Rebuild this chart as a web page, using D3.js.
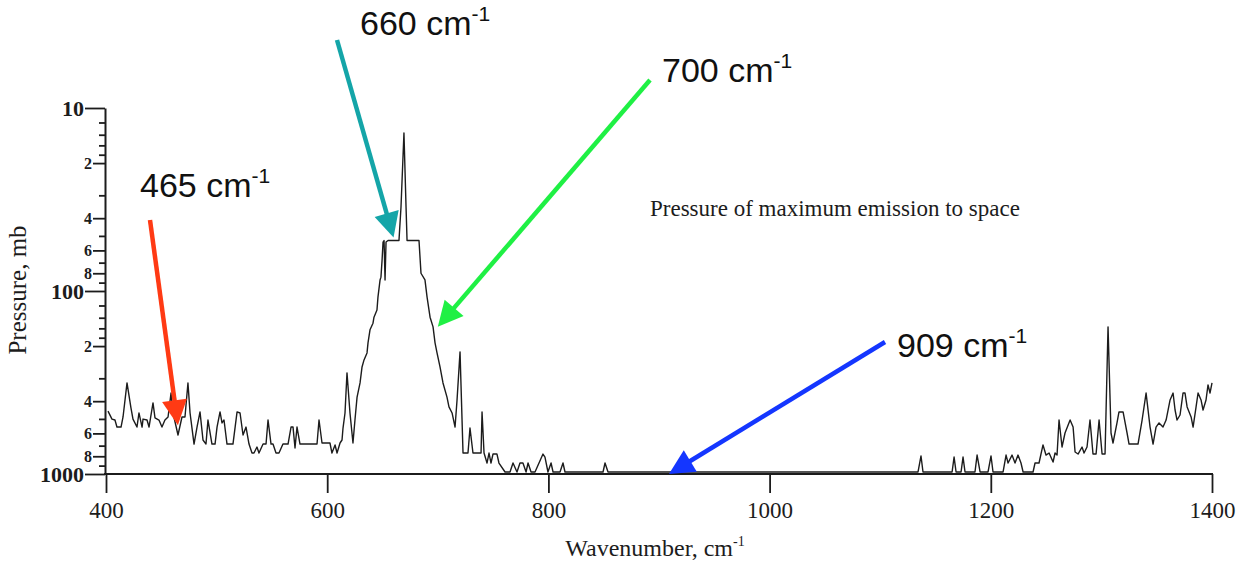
<!DOCTYPE html>
<html>
<head>
<meta charset="utf-8">
<script src="https://cdn.jsdelivr.net/npm/d3@7"></script>
<style>
  html, body { margin: 0; padding: 0; background: #fff; }
  svg { display: block; }
</style>
</head>
<body>
<svg id="chart" width="1244" height="561"></svg>
<script>
// Pressure level of maximum emission to space across the thermal infrared.
const wavenumber = [
  401.8, 405.4, 408.1, 409.9, 413.6, 415.4, 419.0, 422.6, 424.4, 428.0,
  429.8, 432.6, 433.5, 437.1, 438.9, 442.5, 444.3, 447.9, 450.6, 453.3,
  456.1, 458.8, 460.6, 465.1, 468.7, 471.4, 474.1, 476.0, 479.6, 482.3,
  485.0, 487.7, 490.4, 492.2, 495.8, 498.6, 500.4, 503.1, 504.9, 506.7,
  509.4, 514.8, 518.5, 521.2, 523.9, 526.6, 529.3, 532.0, 533.8, 536.5,
  538.3, 542.0, 544.7, 546.5, 549.2, 551.0, 553.7, 556.4, 560.0, 564.6,
  567.3, 569.1, 570.9, 572.7, 575.4, 590.8, 592.6, 595.3, 602.5, 604.3,
  607.1, 608.9, 611.6, 613.4, 614.3, 616.1, 617.9, 620.6, 623.3, 625.1,
  627.0, 629.7, 631.5, 633.3, 636.0, 636.9, 638.7, 641.4, 642.3, 645.0,
  645.9, 647.8, 648.6, 649.6, 650.5, 651.4, 652.3, 653.2, 655.0, 664.9,
  666.7, 669.4, 671.3, 672.2, 683.0, 684.8, 688.4, 690.3, 693.0, 695.7,
  697.5, 699.3, 702.0, 704.7, 708.3, 710.1, 712.9, 715.6, 717.4, 720.1,
  722.8, 727.3, 729.1, 731.8, 739.1, 740.0, 741.8, 744.5, 746.3, 748.1,
  749.9, 753.5, 755.3, 760.8, 765.3, 768.0, 771.6, 774.3, 777.0, 779.8,
  781.6, 784.3, 787.9, 791.5, 795.1, 796.9, 799.6, 802.4, 804.2, 810.5,
  813.2, 815.0, 849.4, 851.2, 853.9, 1134.2, 1136.9, 1138.7, 1165.0, 1166.8,
  1168.6, 1173.1, 1174.9, 1176.7, 1185.7, 1187.6, 1190.3, 1197.5, 1200.2, 1202.0,
  1211.1, 1213.8, 1215.6, 1219.2, 1221.9, 1224.6, 1227.3, 1229.2, 1238.2, 1240.0,
  1243.6, 1247.2, 1249.9, 1252.7, 1256.3, 1258.1, 1259.9, 1261.7, 1264.4, 1267.1,
  1271.7, 1274.4, 1276.2, 1278.9, 1282.5, 1284.3, 1287.0, 1289.7, 1292.4, 1295.2,
  1297.9, 1300.6, 1303.3, 1306.0, 1308.7, 1310.5, 1314.1, 1315.9, 1319.6, 1323.2,
  1325.0, 1333.1, 1336.8, 1340.4, 1344.0, 1346.7, 1349.4, 1352.1, 1355.7, 1358.5,
  1362.1, 1364.8, 1366.6, 1368.4, 1371.1, 1373.8, 1375.6, 1377.5, 1381.1, 1382.9,
  1385.6, 1387.4, 1390.1, 1391.9, 1394.6, 1396.4, 1398.2, 1400.0
];

// mb
const pressure = [
  453, 501, 507, 554, 554, 488, 318, 436, 501, 554,
  464, 554, 501, 507, 554, 409, 494, 507, 554, 507,
  488, 361, 464, 612, 488, 488, 318, 464, 686, 554,
  458, 652, 686, 507, 686, 686, 554, 458, 526, 507,
  686, 686, 458, 464, 612, 554, 686, 768, 768, 712,
  768, 686, 686, 507, 686, 686, 768, 768, 686, 686,
  554, 554, 721, 554, 686, 686, 507, 677, 677, 768,
  694, 768, 677, 652, 561, 464, 280, 464, 677, 507,
  380, 318, 260, 238, 218, 192, 163, 150, 139, 127,
  108, 87, 84, 68, 54, 53, 87, 54, 53, 53,
  35, 13.7, 35, 53, 53, 80, 87, 108, 139, 157,
  192, 218, 260, 318, 380, 430, 464, 554, 394, 215,
  768, 768, 561, 768, 768, 458, 768, 871, 768, 871,
  778, 778, 871, 975, 975, 871, 975, 871, 871, 975,
  871, 975, 975, 871, 778, 808, 975, 871, 975, 975,
  871, 975, 975, 871, 975, 975, 797, 975, 975, 808,
  975, 975, 808, 975, 975, 788, 975, 975, 797, 975,
  975, 788, 871, 788, 871, 788, 871, 975, 975, 871,
  871, 694, 788, 768, 860, 768, 788, 507, 712, 597,
  507, 554, 758, 778, 712, 768, 712, 507, 778, 778,
  507, 778, 778, 157, 597, 677, 526, 458, 458, 597,
  686, 686, 507, 361, 554, 686, 554, 526, 554, 507,
  394, 361, 447, 507, 476, 361, 361, 430, 488, 554,
  430, 361, 394, 447, 394, 326, 361, 318
];

const xTicks = [400, 600, 800, 1000, 1200, 1400];
const yDecades = [10, 100, 1000];
const yLabeledMinor = [20, 40, 60, 80, 200, 400, 600, 800];
const yFineMinor = [12, 14, 16, 18, 30, 50, 70, 90, 120, 140, 160, 180, 300, 500, 700, 900];

// Highlighted spectral positions and their arrows
const markWavenumber = [465, 660, 700, 909];
const markPressure = [541, 51, 157, 1000];
const markColor = ["#ff3a14", "#14a5a8", "#1ff044", "#1436ff"];

const W = 1244, H = 561;
const svg = d3.select("#chart");
svg.append("rect").attr("width", W).attr("height", H).attr("fill", "#fff");

const x = d3.scaleLinear().domain([400, 1400]).range([106, 1212]);
const y = d3.scaleLog().domain([10, 1000]).range([108, 474]);

const serif = "'Liberation Serif', 'DejaVu Serif', serif";
const sans = "'Liberation Sans', Arial, sans-serif";
const ink = "#1c1c1c";

// Emission-level curve
const series = wavenumber.map((w, i) => ({ w, p: pressure[i] }));
svg.append("path")
  .datum(series)
  .attr("fill", "none")
  .attr("stroke", ink)
  .attr("stroke-width", 1.4)
  .attr("stroke-linejoin", "round")
  .attr("d", d3.line().x(d => x(d.w)).y(d => y(d.p)));

// Y axis: decades, labelled minors and fine minors
const yAxisG = svg.append("g").attr("transform", `translate(${x(400) - 1},0)`);
function styleAxis(g) {
  g.selectAll("path.domain").attr("stroke", ink).attr("stroke-width", 2);
  g.selectAll(".tick line").attr("stroke", ink).attr("stroke-width", 1.8);
  g.selectAll("text").attr("fill", ink).attr("font-family", serif);
}
yAxisG.append("g")
  .call(d3.axisLeft(y).tickValues(yDecades).tickSize(20).tickSizeOuter(0).tickPadding(1)
    .tickFormat(d3.format("d")))
  .call(styleAxis)
  .call(g => g.selectAll("text").attr("font-size", 22).attr("font-weight", 600));
yAxisG.append("g")
  .call(d3.axisLeft(y).tickValues(yLabeledMinor).tickSize(12).tickSizeOuter(0).tickPadding(1)
    .tickFormat(d => String(d).charAt(0)))
  .call(styleAxis)
  .call(g => g.select("path.domain").remove())
  .call(g => g.selectAll("text").attr("font-size", 16).attr("font-weight", 600));
yAxisG.append("g")
  .call(d3.axisLeft(y).tickValues(yFineMinor).tickSize(6).tickSizeOuter(0).tickFormat(""))
  .call(styleAxis)
  .call(g => g.select("path.domain").remove());

// X axis
svg.append("g")
  .attr("transform", `translate(0,${y(1000)})`)
  .call(d3.axisBottom(x).tickValues(xTicks).tickSize(19).tickSizeOuter(0).tickPadding(9)
    .tickFormat(d3.format("d")))
  .call(styleAxis)
  .call(g => g.select("path.domain").attr("d", `M${x(400) - 2},0H${x(1400) + 1}`))
  .call(g => g.selectAll("text").attr("font-size", 23));

// Axis titles
const xTitle = svg.append("text")
  .attr("x", 655).attr("y", 556)
  .attr("text-anchor", "middle")
  .attr("font-family", serif).attr("font-size", 24).attr("fill", ink);
xTitle.append("tspan").text("Wavenumber, cm");
xTitle.append("tspan").attr("dy", -10).attr("font-size", 14).text("-1");

svg.append("text")
  .attr("transform", "translate(26,290) rotate(-90)")
  .attr("text-anchor", "middle")
  .attr("font-family", serif).attr("font-size", 25).attr("fill", ink)
  .text("Pressure, mb");

svg.append("text")
  .attr("x", 650).attr("y", 216)
  .attr("font-family", serif).attr("font-size", 23).attr("fill", ink)
  .text("Pressure of maximum emission to space");

// Arrows pointing at selected wavenumbers
const tails = [[150, 220], [337, 40], [650, 80], [885, 342]];
const labelPos = [[140, 197], [360, 35], [662, 82], [897, 357]];
const headLen = 25, headHalf = 12.5;

markWavenumber.forEach((w, i) => {
  const tip = [x(w), y(markPressure[i])];
  const tail = tails[i];
  const dx = tip[0] - tail[0], dy = tip[1] - tail[1];
  const len = Math.hypot(dx, dy);
  const ux = dx / len, uy = dy / len;
  const base = [tip[0] - ux * headLen, tip[1] - uy * headLen];
  svg.append("line")
    .attr("x1", tail[0]).attr("y1", tail[1])
    .attr("x2", base[0] + ux * 2).attr("y2", base[1] + uy * 2)
    .attr("stroke", markColor[i]).attr("stroke-width", 4.5);
  svg.append("path")
    .attr("d", `M${tip[0]},${tip[1]}L${base[0] - uy * headHalf},${base[1] + ux * headHalf}` +
      `L${base[0] + uy * headHalf},${base[1] - ux * headHalf}Z`)
    .attr("fill", markColor[i]);

  const t = svg.append("text")
    .attr("x", labelPos[i][0]).attr("y", labelPos[i][1])
    .attr("font-family", sans).attr("font-size", 34).attr("fill", "#111");
  t.append("tspan").text(`${w} cm`);
  t.append("tspan").attr("dy", -14).attr("font-size", 21).text("-1");
});
</script>
</body>
</html>
